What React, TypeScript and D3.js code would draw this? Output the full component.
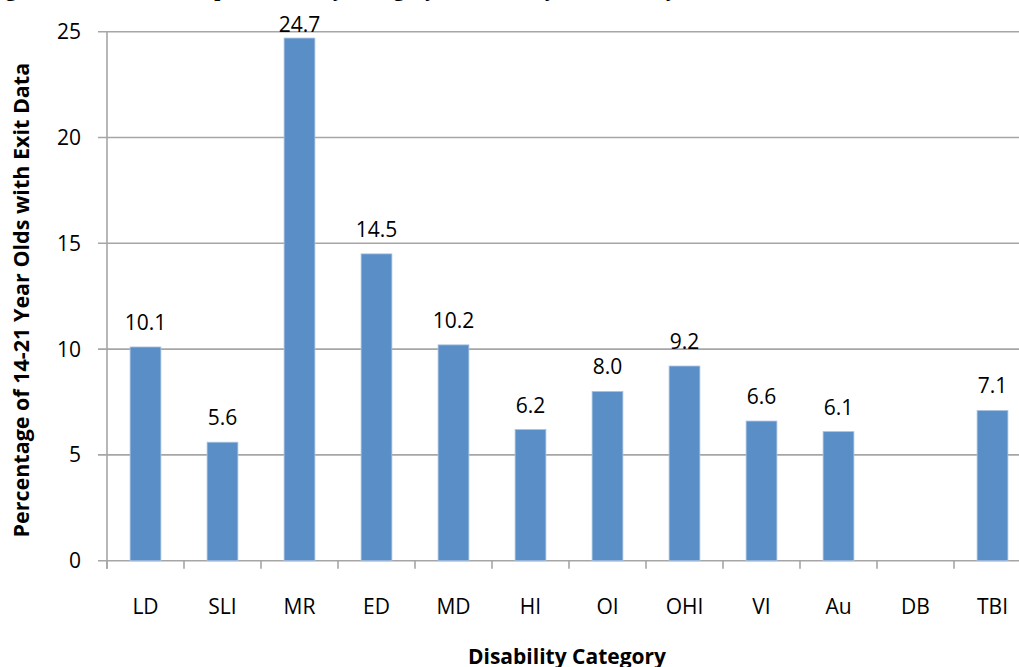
import React, { useEffect, useRef } from "react";
import * as d3 from "d3";

// Disability categories and the percentage of 14-21 year olds with exit data
const categories = ["LD", "SLI", "MR", "ED", "MD", "HI", "OI", "OHI", "VI", "Au", "DB", "TBI"];
const percentages: (number | null)[] = [10.1, 5.6, 24.7, 14.5, 10.2, 6.2, 8.0, 9.2, 6.6, 6.1, null, 7.1];
const yTicks = [0, 5, 10, 15, 20, 25];

const titleText = "Figure 7. Exit Data: Dropout Rates by Category of Disability in Kentucky";
const yAxisTitle = "Percentage of 14-21 Year Olds with Exit Data";
const xAxisTitle = "Disability Category";

const W = 1019;
const H = 667;
const FONT = "'Open Sans', 'DejaVu Sans', sans-serif";

export default function App() {
  const ref = useRef<SVGSVGElement>(null);

  useEffect(() => {
    const svg = d3.select(ref.current);
    svg.selectAll("*").remove();

    const left = 107;
    const bandW = 77;
    const right = left + bandW * categories.length;
    const top = 31.7;
    const bottom = 560.7;

    const x = d3.scaleBand<string>().domain(categories).range([left, right]).paddingInner(0).paddingOuter(0);
    const y = d3.scaleLinear().domain([0, 25]).range([bottom, top]);

    const grid = "#a6a6a6";

    // title line running off the top of the frame
    svg.append("text")
      .attr("x", -14)
      .attr("y", -4.5)
      .attr("font-family", "'Liberation Serif', 'Times New Roman', serif")
      .attr("font-weight", "bold")
      .attr("font-size", 22)
      .attr("fill", "#000")
      .text(titleText);

    // horizontal gridlines with left ticks
    svg.append("g")
      .selectAll("line")
      .data(yTicks)
      .join("line")
      .attr("x1", left - 9)
      .attr("x2", W + 20)
      .attr("y1", (d) => y(d))
      .attr("y2", (d) => y(d))
      .attr("stroke", grid)
      .attr("stroke-width", 1.6);

    // vertical axis line
    svg.append("line")
      .attr("x1", left)
      .attr("x2", left)
      .attr("y1", y(25))
      .attr("y2", bottom + 8)
      .attr("stroke", grid)
      .attr("stroke-width", 1.6);

    // category boundary ticks under the baseline
    const boundaries = d3.range(categories.length + 1).map((i) => left + i * x.bandwidth());
    svg.append("g")
      .selectAll("line")
      .data(boundaries)
      .join("line")
      .attr("x1", (d) => d)
      .attr("x2", (d) => d)
      .attr("y1", bottom)
      .attr("y2", bottom + 8)
      .attr("stroke", grid)
      .attr("stroke-width", 1.6);

    // y tick labels
    svg.append("g")
      .selectAll("text")
      .data(yTicks)
      .join("text")
      .attr("x", 81)
      .attr("y", (d) => y(d))
      .attr("dy", "0.36em")
      .attr("text-anchor", "end")
      .attr("font-family", FONT)
      .attr("font-size", 21)
      .attr("fill", "#000")
      .text((d) => String(d));

    // bars
    const barW = x.bandwidth() / 2.5;
    const rows = categories.map((c, i) => ({ c, v: percentages[i] })).filter((r) => r.v !== null) as { c: string; v: number }[];

    svg.append("g")
      .selectAll("rect")
      .data(rows)
      .join("rect")
      .attr("x", (d) => x(d.c)! + x.bandwidth() / 2 - barW / 2)
      .attr("y", (d) => y(d.v))
      .attr("width", barW)
      .attr("height", (d) => bottom - y(d.v))
      .attr("fill", "#5a8ec6")
      .attr("stroke", "#a9c2e2")
      .attr("stroke-width", 0.8);

    // value labels
    svg.append("g")
      .selectAll("text")
      .data(rows)
      .join("text")
      .attr("x", (d) => x(d.c)! + x.bandwidth() / 2)
      .attr("y", (d) => Math.max(y(d.v) - 17, y(25)))
      .attr("text-anchor", "middle")
      .attr("font-family", FONT)
      .attr("font-size", 21)
      .attr("fill", "#000")
      .text((d) => d.v.toFixed(1));

    // category labels
    svg.append("g")
      .selectAll("text")
      .data(categories)
      .join("text")
      .attr("x", (d) => x(d)! + x.bandwidth() / 2)
      .attr("y", 614)
      .attr("text-anchor", "middle")
      .attr("font-family", FONT)
      .attr("font-size", 21)
      .attr("fill", "#000")
      .text((d) => d);

    // axis titles
    svg.append("text")
      .attr("x", 567)
      .attr("y", 664)
      .attr("text-anchor", "middle")
      .attr("font-family", FONT)
      .attr("font-weight", "bold")
      .attr("font-size", 21)
      .attr("fill", "#000")
      .text(xAxisTitle);

    svg.append("text")
      .attr("transform", `translate(29, ${(top + bottom) / 2 + 4}) rotate(-90)`)
      .attr("text-anchor", "middle")
      .attr("font-family", FONT)
      .attr("font-weight", "bold")
      .attr("font-size", 21.5)
      .attr("fill", "#000")
      .text(yAxisTitle);
  }, []);

  return (
    <svg
      ref={ref}
      width={W}
      height={H}
      style={{ position: "absolute", left: 0, top: 0, background: "#fff" }}
    />
  );
}
